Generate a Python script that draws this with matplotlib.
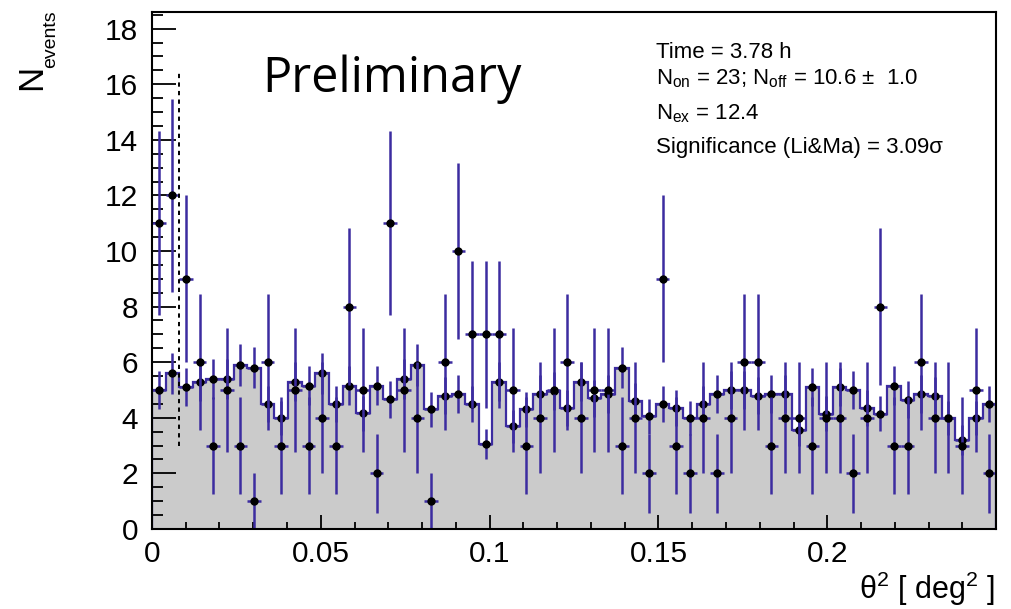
import numpy as np
import matplotlib
matplotlib.use("Agg")
import matplotlib.pyplot as plt
from matplotlib.ticker import MultipleLocator, FixedLocator, FuncFormatter

plt.rcParams["font.family"] = ["Liberation Sans", "DejaVu Sans"]
plt.rcParams["mathtext.fontset"] = "custom"
plt.rcParams["mathtext.rm"] = "Liberation Sans"
plt.rcParams["mathtext.it"] = "Liberation Sans"
plt.rcParams["mathtext.sf"] = "Liberation Sans"

# theta^2 binning
theta2_min = 0.0
theta2_max = 0.25
n_bins = 62

# ON-region counts per bin
on_counts = [11, 12, 9, 6, 3, 5, 3, 1, 6, 3, 5, 3, 4, 3, 8, 5, 2, 11, 5, 4, 1,
             6, 10, 7, 7, 7, 5, 3, 4, 5, 6, 4, 5, 5, 3, 4, 2, 9, 3, 2, 4, 2,
             4, 6, 6, 3, 4, 4, 3, 4, 4, 2, 4, 8, 3, 3, 6, 4, 4, 3, 5, 2]

# normalised OFF-region counts per bin
off_counts = [5.0, 5.6, 5.1, 5.3, 5.4, 5.4, 5.9, 5.8, 4.5, 4.0, 5.3, 5.15, 5.6, 4.5, 5.15, 4.16, 5.15, 4.66, 5.4, 5.9, 4.3,
              4.8, 4.85, 4.5, 3.05, 5.3, 3.7, 4.3, 4.85, 4.95, 4.35, 5.3, 4.7, 4.85, 5.8, 4.6, 4.05, 4.5, 4.35, 4.0, 4.5, 4.85,
              5.0, 5.0, 4.8, 4.85, 4.85, 3.55, 5.1, 4.15, 5.1, 5.0, 4.35, 4.15, 5.15, 4.65, 4.85, 4.8, 4.0, 3.2, 4.0, 4.5]

# labelled x ticks
x_tick_values = [0, 0.05, 0.1, 0.15, 0.2]

# signal-region cut and summary numbers
theta2_cut_bins = 2
obs_time_h = 3.78
n_on = 23
n_off = 10.6
n_off_err = 1.0
n_excess = 12.4
significance = 3.09

edges = np.linspace(theta2_min, theta2_max, n_bins + 1)
centers = 0.5 * (edges[:-1] + edges[1:])
half_w = 0.5 * (edges[1] - edges[0])
on = np.array(on_counts, dtype=float)
off = np.array(off_counts, dtype=float)
on_err = np.sqrt(on)
alpha = n_off_err ** 2 / n_off          # OFF normalisation factor
off_err = np.sqrt(alpha * off)
theta2_cut = edges[theta2_cut_bins]

blue = "#3c2ca0"
grey = "#cbcbcb"

fig = plt.figure(figsize=(10.11, 6.09), dpi=100)
ax = fig.add_axes([0.1503, 0.1314, 0.835, 0.849])

# OFF histogram: filled step with outline
ax.stairs(off, edges, fill=True, color=grey, zorder=1)
ax.stairs(off, edges, fill=False, color=blue, lw=1.6, zorder=2)

ax.errorbar(centers, off, yerr=off_err, xerr=half_w, fmt="o", ms=5,
            mfc="black", mec="black", ecolor=blue, elinewidth=1.8, capsize=0, zorder=3)
ax.errorbar(centers, on, yerr=on_err, xerr=half_w, fmt="o", ms=5,
            mfc="black", mec="black", ecolor=blue, elinewidth=1.8, capsize=0, zorder=4)

# signal-region cut
ax.plot([theta2_cut, theta2_cut], [3.0, 16.5], color="black", lw=1.4,
        ls=(0, (2.2, 2.2)), zorder=5)

ax.set_xlim(theta2_min, theta2_max)
ax.set_ylim(0, 18.6)

ax.xaxis.set_major_locator(FixedLocator(x_tick_values))
ax.xaxis.set_minor_locator(FixedLocator(np.arange(0.01, 0.245, 0.01)))
ax.yaxis.set_major_locator(MultipleLocator(2))
ax.yaxis.set_minor_locator(MultipleLocator(0.5))
ax.xaxis.set_major_formatter(FuncFormatter(lambda v, p: "%g" % round(v, 4)))
ax.yaxis.set_major_formatter(FuncFormatter(lambda v, p: "%d" % round(v)))

ax.tick_params(axis="both", which="both", direction="in", width=1.3,
               colors="black", labelsize=21.5)
ax.tick_params(axis="y", which="major", length=17, pad=10)
ax.tick_params(axis="y", which="minor", length=8)
ax.tick_params(axis="x", which="major", length=10, pad=8)
ax.tick_params(axis="x", which="minor", length=5)
for s in ax.spines.values():
    s.set_linewidth(1.5)
    s.set_zorder(10)

# axis titles
fig.text(0.0475, 0.873, "N", rotation=90, fontsize=25, ha="right", va="center")
fig.text(0.0584, 0.936, "events", rotation=90, fontsize=14, ha="right", va="center")
fig.text(0.984, 0.001, r"θ$^{2}$ [ deg$^{2}$ ]", fontsize=22, ha="right", va="bottom")

# label and run summary
fig.text(0.259, 1 - 92 / 609, "Preliminary", fontsize=35,
         family=["Open Sans", "DejaVu Sans"], ha="left", va="baseline")

stats = [
    (0.9146, "Time = %.2f h" % obs_time_h),
    (0.870, r"N$_{\mathrm{on}}$ = %d; N$_{\mathrm{off}}$ = %.1f $\pm$  %.1f" % (n_on, n_off, n_off_err)),
    (0.8125, r"N$_{\mathrm{ex}}$ = %.1f" % n_excess),
    (0.757, r"Significance (Li&Ma) = %.2fσ" % significance),
]
for yy, s in stats:
    fig.text(0.649, yy, s, fontsize=16, ha="left", va="center")

fig.savefig("out.png", dpi=100)
